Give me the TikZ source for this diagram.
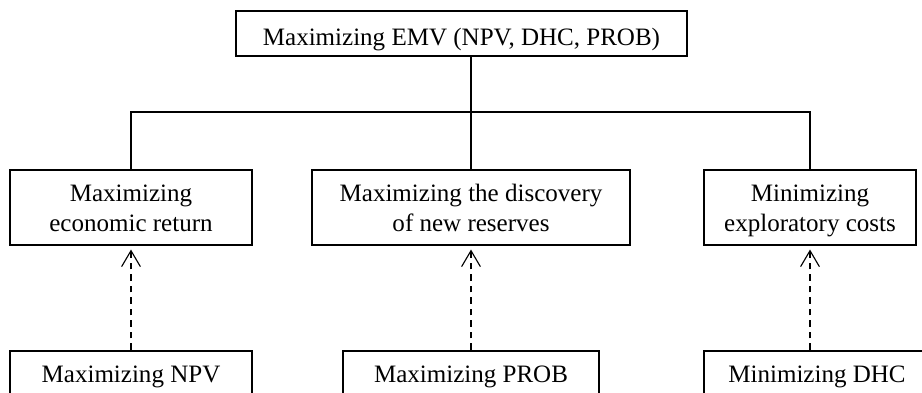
\documentclass[tikz,border=0pt]{standalone}
\usepackage{fontspec}
\setmainfont{Liberation Serif}
\usetikzlibrary{arrows.meta}

\begin{document}
\begin{tikzpicture}[
    box/.style={draw, line width=1.1pt, inner sep=0pt, align=center, anchor=north,
      font=\fontsize{17.8}{21.3}\selectfont},
    goal/.style={box, text height=1.55cm, text depth=0.325cm},
    crit/.style={box, text height=0.7875cm, text depth=0.9625cm},
    link/.style={line width=0.8pt},
    dep/.style={line width=0.8pt, dash pattern=on 4.8pt off 3.4pt,
      -{Straight Barb[length=0.4cm, width=0.47cm]}, shorten >=0.1cm}
  ]
    \useasboundingbox (0,0) rectangle (23.05,9.8);
    \clip (0,0) rectangle (23.05,9.8);

    \node[box, minimum width=11.275cm, text height=0.8625cm, text depth=0.2625cm]
      (emv) at (11.5375,9.55) {Maximizing EMV (NPV, DHC, PROB)};

    \node[goal, minimum width=6.05cm] (goalA) at (3.275,5.575) {Maximizing\\economic return};
    \node[goal, minimum width=7.95cm] (goalB) at (11.775,5.575) {Maximizing the discovery\\of new reserves};
    \node[goal, minimum width=5.3cm] (goalC) at (20.25,5.575) {Minimizing\\exploratory costs};

    \node[crit, minimum width=6.05cm] (critA) at (3.275,1.05) {Maximizing NPV};
    \node[crit, minimum width=6.4cm] (critB) at (11.775,1.05) {Maximizing PROB};
    \node[crit, minimum width=5.65cm] (critC) at (20.425,1.05) {Minimizing DHC};

    \coordinate (bus) at (11.775,7);

    \draw[link] (goalB.north) -- (goalB.north |- emv.south);
    \draw[link] (goalA.north) |- (bus) -| (goalC.north);

    \draw[dep] (critA.north) -- (goalA.south);
    \draw[dep] (critB.north) -- (goalB.south);
    \draw[dep] (goalC.south |- critC.north) -- (goalC.south);
  \end{tikzpicture}
\end{document}
